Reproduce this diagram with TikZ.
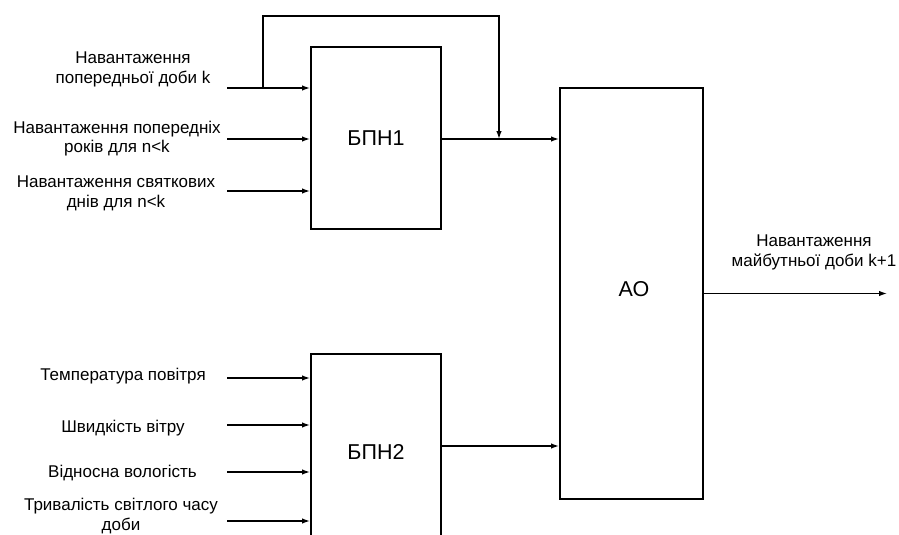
\documentclass[tikz,border=0pt]{standalone}
\usepackage{fontspec}
\setmainfont{Liberation Sans}
\usetikzlibrary{arrows.meta}
\begin{document}
\begin{tikzpicture}[x=1pt,y=-1pt,
  blockbox/.style={draw,line width=2pt,minimum width=130pt,inner sep=0pt,font=\fontsize{21.5}{24}\selectfont},
  lbl/.style={align=center,inner sep=0pt,font=\fontsize{17}{19.5}\selectfont},
  conn/.style={line width=1.3pt},
  arr/.style={conn,-{Latex[length=8pt,width=5.5pt]}}]
\useasboundingbox (0,0) rectangle (899,535);
\clip (0,0) rectangle (899,535);
% blocks
\node[blockbox,minimum height=182pt] (b1) at (376,138) {БПН1};
\node[blockbox,minimum height=192pt] (b2) at (376,450) {};
\node[font=\fontsize{21.5}{24}\selectfont] (b2t) at (376,452) {БПН2};
\node[blockbox,minimum width=143pt,minimum height=411pt] (ao) at (631.5,293.5) {};
\node[font=\fontsize{21.5}{24}\selectfont] (aot) at (634,289) {АО};
% labels
\node[lbl] (l1) at (133,69.5) {Навантаження\\попередньої доби k};
\node[lbl] (l2) at (117,138.5) {Навантаження попередніх\\років для n<k};
\node[lbl] (l3) at (116,193.5) {Навантаження святкових\\днів для n<k};
\node[lbl,anchor=base] (l4) at (123,380) {Температура повітря};
\node[lbl,anchor=base] (l5) at (123,432) {Швидкість вітру};
\node[lbl,anchor=base] (l6) at (122.5,477) {Відносна вологість};
\node[lbl] (l7) at (121,516) {Тривалість світлого часу\\доби};
\node[lbl] (lo) at (814,252.5) {Навантаження\\майбутньої доби k+1};
% input coordinates
\coordinate (i1) at (227,88);
\coordinate (i2) at (227,139);
\coordinate (i3) at (227,191);
\coordinate (i4) at (227,378);
\coordinate (i5) at (227,425);
\coordinate (i6) at (227,472);
\coordinate (i7) at (227,521);
\coordinate (j1) at (263,88);
\coordinate (j2) at (499,139);
\coordinate (out) at (887,293.5);
\foreach \i in {i1,i2,i3}{\draw[arr] (\i) -- (\i -| b1.west);}
\foreach \i in {i4,i5,i6,i7}{\draw[arr] (\i) -- (\i -| b2.west);}
% feedback
\draw[arr] (j1) -- ++(0,-72) -| (j2);
% outputs
\draw[arr] (b1.east |- j2) -- (j2 -| ao.west);
\draw[arr] ([yshift=4pt]b2.east) -- ([yshift=4pt]b2.east -| ao.west);
\draw[arr] (ao.east) -- (out);
\end{tikzpicture}
\end{document}
